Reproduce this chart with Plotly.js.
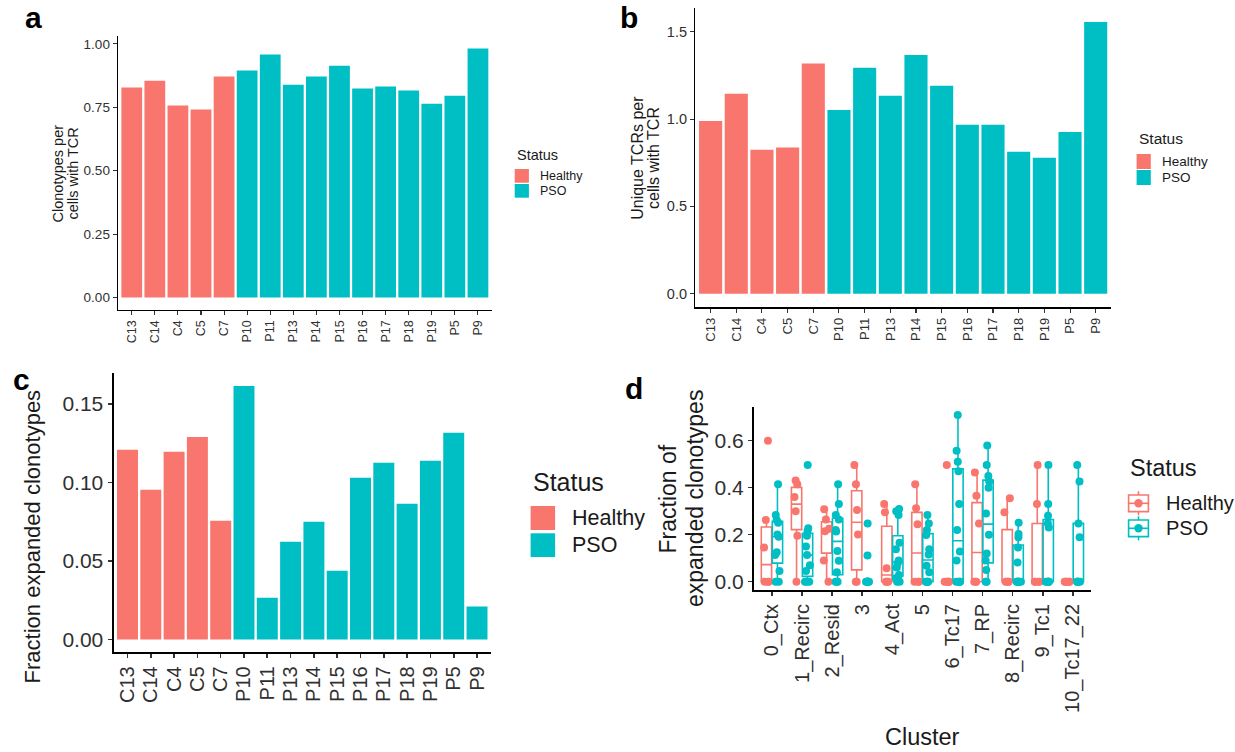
<!DOCTYPE html>
<html><head><meta charset="utf-8">
<script src="https://cdn.plot.ly/plotly-3.0.1.min.js"></script>
<style>html,body{margin:0;padding:0;background:#fff}#chart{width:1235px;height:752px}</style>
</head><body><div id="chart"></div>
<script>
// ---------------- DATA ----------------
const samples = ['C13','C14','C4','C5','C7','P10','P11','P13','P14','P15','P16','P17','P18','P19','P5','P9'];
const sampleStatus = ['Healthy','Healthy','Healthy','Healthy','Healthy','PSO','PSO','PSO','PSO','PSO','PSO','PSO','PSO','PSO','PSO','PSO'];
const clonotypesPerCell = [0.828,0.855,0.757,0.741,0.871,0.895,0.958,0.839,0.871,0.914,0.824,0.832,0.816,0.764,0.796,0.982];
const uniqueTcrsPerCell = [0.990,1.145,0.824,0.838,1.319,1.053,1.294,1.134,1.368,1.191,0.968,0.968,0.813,0.779,0.927,1.557];
const fracExpanded = [0.1208,0.0953,0.1195,0.1290,0.0756,0.1614,0.0267,0.0623,0.0750,0.0439,0.1030,0.1125,0.0864,0.1138,0.1316,0.0210];

const clusters = ['0_Ctx','1_Recirc','2_Resid','3','4_Act','5','6_Tc17','7_RP','8_Recirc','9_Tc1','10_Tc17_22'];
const healthyFrac = [
  [0,0,0,0.145,0.262,0.60],
  [0,0.195,0.30,0.36,0.415,0.43],
  [0,0.09,0.215,0.225,0.265,0.308],
  [0,0,0.201,0.305,0.414,0.496],
  [0,0,0,0.057,0.295,0.33],
  [0,0,0,0.244,0.312,0.414],
  [0,0,0,0,0,0.496],
  [0,0,0,0.248,0.366,0.464],
  [0,0,0,0,0.295,0.355],
  [0,0,0,0,0.33,0.496],
  [0,0,0,0,0,0]
];
const psoFrac = [
  [0,0,0.045,0.113,0.125,0.191,0.201,0.251,0.262,0.284,0.414],
  [0,0,0,0.045,0.07,0.113,0.15,0.195,0.216,0.227,0.496],
  [0,0,0,0.04,0.089,0.13,0.213,0.22,0.265,0.284,0.33,0.414],
  [0,0,0,0,0,0,0,0,0,0.111,0.248],
  [0,0,0.015,0.028,0.06,0.078,0.09,0.138,0.166,0.284,0.30,0.309],
  [0,0,0,0,0.04,0.068,0.116,0.138,0.199,0.22,0.248,0.284],
  [0,0,0,0,0.09,0.128,0.22,0.33,0.47,0.51,0.557,0.709],
  [0,0,0.05,0.09,0.12,0.20,0.29,0.40,0.426,0.45,0.496,0.579],
  [0,0,0,0,0,0,0,0.082,0.145,0.189,0.203,0.251],
  [0,0,0,0,0,0,0.23,0.248,0.28,0.33,0.496],
  [0,0,0,0,0,0.189,0.248,0.426,0.496]
];

// ---------------- STYLE ----------------
const W = 1235, H = 752;
const COL = {Healthy:'#F8766D', PSO:'#00BFC4'};
const FONT = 'Liberation Sans, Arial, Helvetica, sans-serif';
const TXT = '#1a1a1a', TICK = '#303030';
const X = px => px / W;
const Y = py => 1 - py / H;

function q7(s, p){ const h=(s.length-1)*p, lo=Math.floor(h), hi=Math.ceil(h); return s[lo]+(h-lo)*(s[hi]-s[lo]); }
function boxStats(arr){
  const s=[...arr].sort((a,b)=>a-b);
  const q1=q7(s,.25), m=q7(s,.5), q3=q7(s,.75), iqr=q3-q1;
  const lf=Math.min(...s.filter(v=>v>=q1-1.5*iqr));
  const uf=Math.max(...s.filter(v=>v<=q3+1.5*iqr));
  return {q1,m,q3,lf,uf};
}

function barTrace(vals, xa, ya){
  return {type:'bar', x:samples, y:vals, xaxis:xa, yaxis:ya,
    marker:{color:sampleStatus.map(s=>COL[s]), line:{width:0}}, showlegend:false, hoverinfo:'x+y'};
}

function statsTrace(name, data){
  const st=data.map(boxStats);
  return {type:'box', name, x:clusters, q1:st.map(s=>s.q1), median:st.map(s=>s.m), q3:st.map(s=>s.q3),
    lowerfence:st.map(s=>s.lf), upperfence:st.map(s=>s.uf), xaxis:'x4', yaxis:'y4', offsetgroup:name,
    boxpoints:false, whiskerwidth:0, line:{color:COL[name], width:1.6}, fillcolor:'rgba(255,255,255,0)',
    showlegend:false, hoverinfo:'skip'};
}
function pointsTrace(name, data){
  const xs=[], ys=[];
  data.forEach((arr,i)=>arr.forEach(v=>{xs.push(clusters[i]); ys.push(v);}));
  return {type:'box', name, x:xs, y:ys, xaxis:'x4', yaxis:'y4', offsetgroup:name,
    boxpoints:'all', jitter:0.55, pointpos:0, marker:{color:COL[name], size:8},
    line:{width:0, color:'rgba(0,0,0,0)'}, fillcolor:'rgba(0,0,0,0)', whiskerwidth:0,
    showlegend:false, hoverinfo:'y'};
}

const traces = [
  barTrace(clonotypesPerCell,'x','y'),
  barTrace(uniqueTcrsPerCell,'x2','y2'),
  barTrace(fracExpanded,'x3','y3'),
  statsTrace('Healthy', healthyFrac), statsTrace('PSO', psoFrac),
  pointsTrace('Healthy', healthyFrac), pointsTrace('PSO', psoFrac)
];

function xAxis(cats, dom, anchor, fs, lw){
  return {domain:[X(dom[0]),X(dom[1])], anchor, type:'category', categoryorder:'array', categoryarray:cats,
    tickmode:'array', tickvals:cats, ticktext:cats, range:[-0.6, cats.length-0.4],
    showline:true, linecolor:'#000', linewidth:lw, ticks:'outside', ticklen:4, tickwidth:lw*0.8, tickcolor:'#333',
    tickangle:-90, tickfont:{family:FONT, size:fs, color:TICK}, showgrid:false, zeroline:false, fixedrange:true};
}
function yAxis(vals, dom, anchor, fs, tv, fmt, lw){
  const mx=Math.max(...vals.flat());
  return {domain:[Y(dom[1]),Y(dom[0])], anchor, range:[-0.05*mx, 1.05*mx],
    tickmode:'array', tickvals:tv, ticktext:tv.map(v=>v.toFixed(fmt)),
    showline:true, linecolor:'#000', linewidth:lw, ticks:'outside', ticklen:4, tickwidth:lw*0.8, tickcolor:'#333',
    tickfont:{family:FONT, size:fs, color:TICK}, showgrid:false, zeroline:false, fixedrange:true};
}

const ann = [];
function txt(t, x, y, fs, opts){
  ann.push(Object.assign({text:t, x:X(x), y:Y(y), xref:'paper', yref:'paper', showarrow:false,
    xanchor:'center', yanchor:'middle', font:{family:FONT, size:fs, color:TXT}}, opts||{}));
}
// panel letters
const LF = {family:FONT, size:30, color:'#000', weight:'bold'};
txt('a', 33, 0, 30, {font:LF, yanchor:'top', borderpad:0});
txt('b', 629, 0, 30, {font:LF, yanchor:'top', borderpad:0});
txt('c', 21, 362, 30, {font:LF, yanchor:'top', borderpad:0});
txt('d', 634, 371, 30, {font:LF, yanchor:'top', borderpad:0});
// y titles
txt('Clonotypes per', 58.2, 173.3, 14.5, {textangle:-90});
txt('cells with TCR', 73.3, 173.3, 14.5, {textangle:-90});
txt('Unique TCRs per', 637.5, 158.3, 16, {textangle:-90});
txt('cells with TCR', 653.7, 158.3, 16, {textangle:-90});
txt('Fraction expanded clonotypes', 32.7, 536.7, 22, {textangle:-90});
txt('Fraction of', 667.5, 499, 23, {textangle:-90});
txt('expanded clonotypes', 695, 499, 23, {textangle:-90});
txt('Cluster', 922, 737, 23.5);

// legends
const shapes = [];
function rect(x0,y0,x1,y1,fill,line,lw){
  shapes.push({type:'rect', xref:'paper', yref:'paper', x0:X(x0), x1:X(x1), y0:Y(y1), y1:Y(y0),
    fillcolor:fill, line:{width:lw||0, color:line||'rgba(0,0,0,0)'}});
}
function line(x0,y0,x1,y1,color,lw){
  shapes.push({type:'line', xref:'paper', yref:'paper', x0:X(x0), x1:X(x1), y0:Y(y0), y1:Y(y1), line:{color, width:lw}});
}
function dot(cx,cy,r,color){
  shapes.push({type:'circle', xref:'paper', yref:'paper', x0:X(cx-r), x1:X(cx+r), y0:Y(cy+r), y1:Y(cy-r), fillcolor:color, line:{width:0}});
}
const statusNames = ['Healthy','PSO'];
function barLegend(x, yTitle, ft, fl, kw, keys){
  txt('Status', x, yTitle, ft, {xanchor:'left'});
  keys.forEach((k,i)=>{
    rect(x, k[0], x+kw, k[1], COL[statusNames[i]]);
    txt(statusNames[i], x+kw+ (kw>20?15:9), (k[0]+k[1])/2, fl, {xanchor:'left'});
  });
}
barLegend(514.7, 155, 14.5, 12.5, 14.2, [[169,182.7],[184,197.7]]);
barLegend(1136.6, 138, 15.5, 13.5, 14.2, [[154,169],[170,185]]);
barLegend(530.6, 482, 25, 21.5, 24.5, [[506,530],[533.3,557]]);
// box legend
txt('Status', 1127.7, 468, 23.5, {xanchor:'left'});
[[503.3],[528.3]].forEach((r,i)=>{
  const cy=r[0], c=COL[statusNames[i]], cx=1138.5;
  line(cx, cy-12, cx, cy-8.3, c, 1.6);
  line(cx, cy+8.3, cx, cy+12, c, 1.6);
  rect(1128.6, cy-8.3, 1148.4, cy+8.3, 'rgba(255,255,255,0)', c, 1.6);
  line(1128.6, cy, 1148.4, cy, c, 1.6);
  dot(cx, cy, 4.2, c);
  txt(statusNames[i], 1163.7, cy, 20, {xanchor:'left'});
});

const layout = {
  width:W, height:H, margin:{l:0,r:0,t:0,b:0}, paper_bgcolor:'#fff', plot_bgcolor:'rgba(0,0,0,0)',
  showlegend:false, bargap:0.1, boxmode:'group', boxgap:0.27, boxgroupgap:0.06,
  xaxis: xAxis(samples,[117.9,491.8],'y',12.5,1.3),
  yaxis: yAxis(clonotypesPerCell,[36,310],'x',13.5,[0,0.25,0.5,0.75,1],2,1.3),
  xaxis2: xAxis(samples,[695.2,1111.1],'y2',13,1.3),
  yaxis2: yAxis(uniqueTcrsPerCell,[8.3,307.3],'x2',14.5,[0,0.5,1,1.5],1,1.3),
  xaxis3: xAxis(samples,[113.5,491],'y3',20,2),
  yaxis3: yAxis(fracExpanded,[373.3,652.3],'x3',21,[0,0.05,0.1,0.15],2,2),
  xaxis4: xAxis(clusters,[753.9,1090.9],'y4',20,2),
  yaxis4: yAxis([healthyFrac.flat(), psoFrac.flat()],[406.7,590],'x4',21,[0,0.2,0.4,0.6],1,2),
  annotations: ann, shapes: shapes
};
Plotly.newPlot('chart', traces, layout, {displayModeBar:false, staticPlot:true});
</script></body></html>
